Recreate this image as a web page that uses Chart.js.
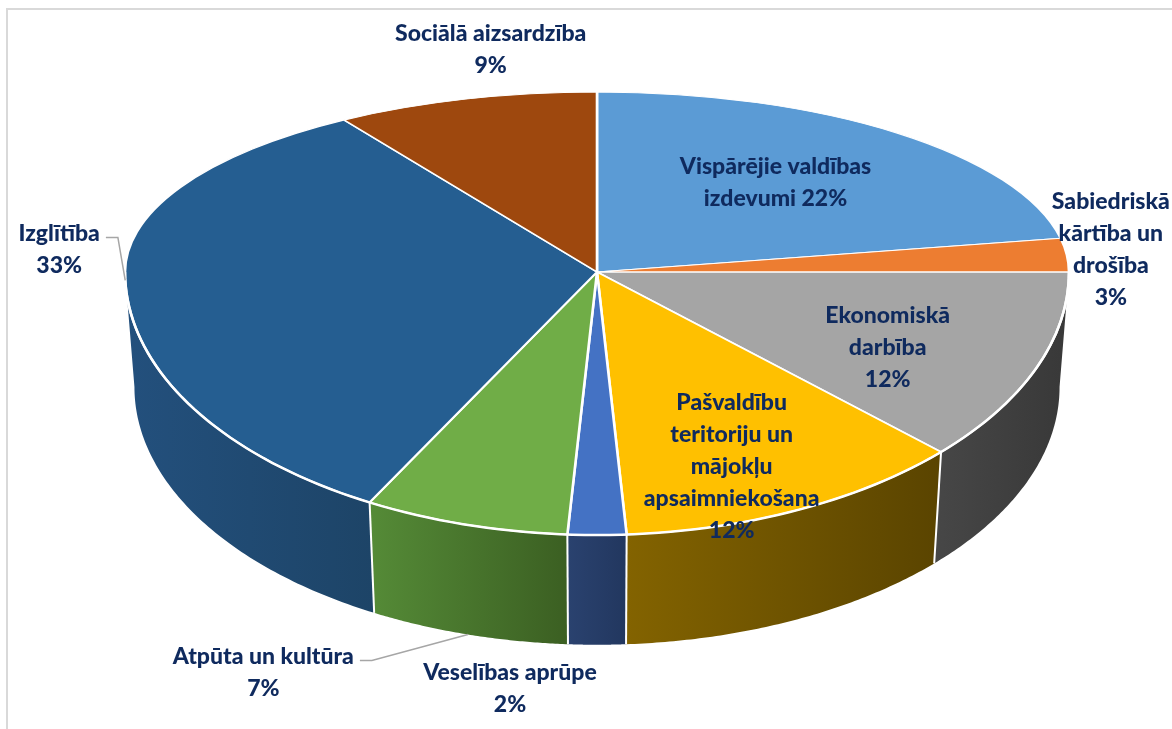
<!DOCTYPE html>
<html><head><meta charset="utf-8">
<script src="https://cdn.jsdelivr.net/npm/chart.js@4/dist/chart.umd.min.js"></script>
<style>html,body{margin:0;padding:0;background:#fff;overflow:hidden}</style>
</head><body>
<canvas id="c" width="1172" height="729"></canvas>
<script>
// ---- data ----
const categories = ["Vispārējie valdības izdevumi","Sabiedriskā kārtība un drošība","Ekonomiskā darbība","Pašvaldību teritoriju un mājokļu apsaimniekošana","Veselības aprūpe","Atpūta un kultūra","Izglītība","Sociālā aizsardzība"];
const shares = [22, 3, 12, 12, 2, 7, 33, 9];
const labelLines = [
  ["Vispārējie valdības","izdevumi {p}"],
  ["Sabiedriskā","kārtība un","drošība","{p}"],
  ["Ekonomiskā","darbība","{p}"],
  ["Pašvaldību","teritoriju un","mājokļu","apsaimniekošana","{p}"],
  ["Veselības aprūpe","{p}"],
  ["Atpūta un kultūra","{p}"],
  ["Izglītība","{p}"],
  ["Sociālā aizsardzība","{p}"]
];
// ---- styles ----
const topColors = ['#5B9BD5','#ED7D31','#A5A5A5','#FFC000','#4472C4','#70AD47','#255E91','#9E480E'];
const wallColors = [['#3a6d9c','#2f5c86'],['#8f4a1c','#7a3e16'],['#474747','#383838'],['#836300','#5a4400'],['#2a426f','#22375f'],['#558b37','#3b5f22'],['#23507d','#1d4467'],['#6e320a','#5a2908']];
// label placement: radial factor along mid-angle + offset
const labelPlace = [
  {f:0.6, dx:-2, dy:-6},
  {f:1.085, dx:4, dy:-4},
  {f:0.66, dx:1, dy:12},
  {f:0.67, dx:0, dy:35},
  {f:1.0, dx:-87, dy:154},
  {f:1.0, dx:-202, dy:148},
  {f:1.14, dx:0, dy:-32},
  {f:1.24, dx:57, dy:-8}
];
const leaders = {5:'wall', 6:'top'};
const G = {X0:597, Y0:272, rx:472, ryTop:180, ryBot:263, depth:115, shrink:0.98};
const FONT = '900 23px Lato';
const TEXT = '#0f2a5e';
const LH = 32;

function midDeg(i){ let c=0; for(let k=0;k<i;k++) c+=shares[k]; const tot=shares.reduce((a,b)=>a+b,0); return (c+shares[i]/2)/tot*360; }
function projTop(t){ const s=Math.sin(t); return {x:G.X0+G.rx*Math.cos(t), y:G.Y0+(s<0?G.ryTop:G.ryBot)*s}; }
function projBot(t){ return {x:G.X0+G.rx*G.shrink*Math.cos(t), y:G.Y0+G.depth+G.ryBot*G.shrink*Math.sin(t)}; }

const pie3d = {
  id:'pie3d',
  beforeDatasetDraw(chart, args){
    const ctx = chart.ctx, meta = args.meta;
    const W = chart.width, H = chart.height;
    meta.data.forEach((el,i)=>{
      const a = Math.max(el.startAngle, 0), b = Math.min(el.endAngle, Math.PI);
      if (b <= a) return;
      const N = 80;
      ctx.beginPath();
      let xmin=1e9,xmax=-1e9;
      for(let k=0;k<=N;k++){const p=projTop(a+(b-a)*k/N); ctx.lineTo(p.x,p.y); xmin=Math.min(xmin,p.x); xmax=Math.max(xmax,p.x);}
      for(let k=N;k>=0;k--){const p=projBot(a+(b-a)*k/N); ctx.lineTo(p.x,p.y); xmin=Math.min(xmin,p.x); xmax=Math.max(xmax,p.x);}
      ctx.closePath();
      const g = ctx.createLinearGradient(xmin,0,xmax,0);
      g.addColorStop(0, wallColors[i][0]); g.addColorStop(1, wallColors[i][1]);
      ctx.fillStyle = g; ctx.fill();
    });
    ctx.save(); ctx.strokeStyle='#fff'; ctx.lineWidth=2;
    meta.data.forEach(el=>{
      const t = el.endAngle;
      if (t>0.001 && t<Math.PI-0.001){ const p=projTop(t), q=projBot(t); ctx.beginPath(); ctx.moveTo(p.x,p.y); ctx.lineTo(q.x,q.y); ctx.stroke(); }
    });
    ctx.restore();
    const el0 = meta.data[0]; const cx=el0.x, cy=el0.y, R=el0.outerRadius;
    [[0,G.Y0,G.ryTop],[G.Y0,H-G.Y0,G.ryBot]].forEach(([y1,h,ry])=>{
      ctx.save(); ctx.beginPath(); ctx.rect(0,y1,W,h); ctx.clip();
      ctx.translate(G.X0,G.Y0); ctx.scale(G.rx/R, ry/R); ctx.translate(-cx,-cy);
      meta.controller.draw();
      ctx.restore();
    });
    ctx.save(); ctx.strokeStyle='#fff'; ctx.lineWidth=2.5; ctx.beginPath();
    for(let k=0;k<=120;k++){const p=projTop(Math.PI*k/120); ctx.lineTo(p.x,p.y);} ctx.stroke(); ctx.restore();
    return false;
  },
  afterDraw(chart){
    const ctx = chart.ctx;
    ctx.save(); ctx.strokeStyle='#d9d9d9'; ctx.lineWidth=2;
    ctx.beginPath(); ctx.moveTo(7,chart.height); ctx.lineTo(7,9); ctx.lineTo(chart.width,9); ctx.stroke(); ctx.restore();
    ctx.save(); ctx.font = FONT; ctx.fillStyle = TEXT; ctx.textAlign='center'; ctx.textBaseline='middle';
    shares.forEach((v,i)=>{
      const t = midDeg(i)*Math.PI/180 - Math.PI/2;
      const pl = labelPlace[i];
      const s=Math.sin(t);
      const ax = G.X0 + G.rx*pl.f*Math.cos(t) + pl.dx;
      const ay = G.Y0 + (s<0?G.ryTop:G.ryBot)*pl.f*s + pl.dy;
      const lines = labelLines[i].map(l=>l.replace('{p}', v+'%'));
      const y0 = ay - (lines.length-1)*LH/2;
      lines.forEach((l,k)=>ctx.fillText(l, ax, y0+k*LH));
      if (leaders[i]){
        const w = ctx.measureText(lines[0]).width;
        const sx = ax + w/2 + 6, sy = y0 + 4;
        const e = leaders[i]==='wall' ? projBot(t) : projTop(t);
        ctx.save(); ctx.strokeStyle='#a6a6a6'; ctx.lineWidth=1.5;
        ctx.beginPath(); ctx.moveTo(sx,sy); ctx.lineTo(sx+12,sy); ctx.lineTo(e.x,e.y); ctx.stroke(); ctx.restore();
      }
    });
    ctx.restore();
  }
};

new Chart(document.getElementById('c'), {
  type:'pie',
  data:{labels:categories, datasets:[{data:shares, backgroundColor:topColors, borderColor:'#ffffff', borderWidth:2}]},
  options:{responsive:false, animation:false, events:[], layout:{padding:0},
    plugins:{legend:{display:false}, tooltip:{enabled:false}}},
  plugins:[pie3d]
});
</script>
</body></html>
